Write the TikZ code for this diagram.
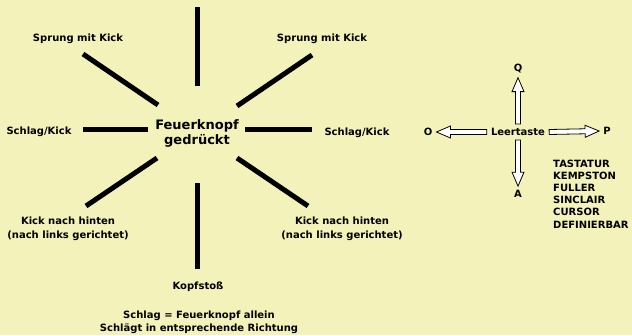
\documentclass[tikz,border=0pt]{standalone}
\usepackage{fontspec}
\setmainfont{DejaVu Sans}
\usetikzlibrary{calc}

\definecolor{bgyellow}{RGB}{242,242,186}

\tikzset{
  lbl/.style={font=\bfseries\fontsize{10}{14}\selectfont, inner sep=0pt, align=center},
  keyname/.style={font=\bfseries\fontsize{10}{12}\selectfont, inner sep=4pt},
  ray/.style={line width=5pt},
  hollow/.style={draw, fill=white, line width=0.8pt, line join=miter, to path={
    ($(\tikztostart)!2.5pt!90:(\tikztotarget)$)
    -- ($(\tikztotarget)!14pt!(\tikztostart)!2.5pt!90:(\tikztotarget)$)
    -- ($(\tikztotarget)!14pt!(\tikztostart)!6pt!90:(\tikztotarget)$)
    -- (\tikztotarget)
    -- ($(\tikztotarget)!14pt!(\tikztostart)!6pt!-90:(\tikztotarget)$)
    -- ($(\tikztotarget)!14pt!(\tikztostart)!2.5pt!-90:(\tikztotarget)$)
    -- ($(\tikztostart)!2.5pt!-90:(\tikztotarget)$) -- cycle}}
}

\begin{document}
\begin{tikzpicture}[x=1pt, y=-1pt]
  \fill[bgyellow] (0,0) rectangle (632,335);
  \useasboundingbox (0,0) rectangle (632,335);

  % Feuerknopf
  \node[font=\bfseries\fontsize{13}{15}\selectfont, align=center, inner sep=0pt] (fk) at (197,133) {Feuerknopf\\gedrückt};
  \foreach \i/\o in {{197,86}/{197,7}, {158,105}/{83,54}, {148,129}/{83,129},
                     {157,158}/{86,206}, {197,183}/{197,269}, {237,158}/{308,206},
                     {245,129}/{312,129}, {237,106}/{312,55}}
    \draw[ray] (\i) -- (\o);

  \node[lbl] (sprung-l) at (78,39) {Sprung mit Kick};
  \node[lbl] (sprung-r) at (322,39) {Sprung mit Kick};
  \node[lbl] (schlag-l) at (39,132) {Schlag/Kick};
  \node[lbl] (schlag-r) at (357,133) {Schlag/Kick};
  \node[lbl] (kick-l) at (68,229) {Kick nach hinten\\(nach links gerichtet)};
  \node[lbl] (kick-r) at (342,229) {Kick nach hinten\\(nach links gerichtet)};
  \node[lbl] (kopf) at (198,287) {Kopfstoß};
  \node[lbl, font=\bfseries\fontsize{10}{13}\selectfont] (note) at (199,322)
    {Schlag = Feuerknopf allein\\Schlägt in entsprechende Richtung};

  % Tastatur
  \node[keyname] (lt) at (518,132) {Leertaste};
  \node[keyname] (q) at (518,69) {Q};
  \node[keyname] (a) at (518,194) {A};
  \node[keyname] (o) at (428,132) {O};
  \node[keyname] (p) at (607,131) {P};
  \draw[hollow] (lt.north) to (q.south);
  \draw[hollow] (lt.south) to (a.north);
  \draw[hollow] (lt.west) to (o.east);
  \draw[hollow] (lt.east) to (p.west);

  \node[lbl, align=left, anchor=north west, font=\bfseries\fontsize{10}{12.2}\selectfont] (modes) at (553,159.5)
    {TASTATUR\\KEMPSTON\\FULLER\\SINCLAIR\\CURSOR\\DEFINIERBAR};
\end{tikzpicture}
\end{document}
